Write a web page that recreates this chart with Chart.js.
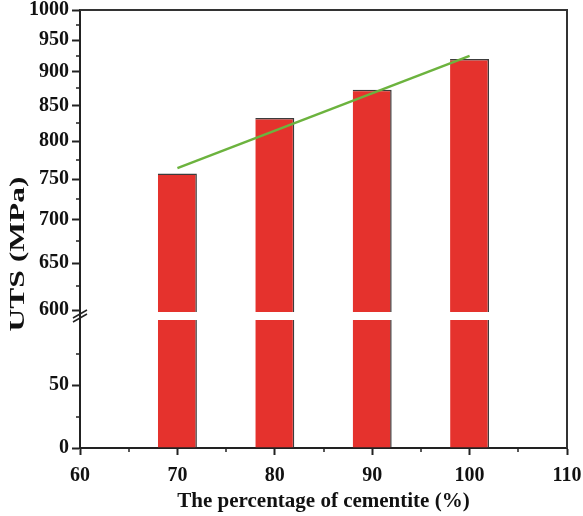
<!DOCTYPE html>
<html>
<head>
<meta charset="utf-8">
<script src="https://cdn.jsdelivr.net/npm/chart.js@4"></script>
<style>
  html, body { margin: 0; padding: 0; background: #fff; }
  #wrap { width: 583px; height: 516px; }
</style>
</head>
<body>
<div id="wrap"><canvas id="canvas" width="583" height="516"></canvas></div>
<script>
// data
const cementite = [70, 80, 90, 100];
const uts = [757, 832, 873, 920];
const fitX = [70, 100];
const fitY = [764, 925];
const upperTicks = [600, 650, 700, 750, 800, 850, 900, 950, 1000];
const lowerTicks = [0, 50];
const xTicks = [60, 70, 80, 90, 100, 110];

const upperMin = 594, upperMax = 1000;
const lowerMin = 0, lowerMax = 105;

const ink = '#222';
const tickFont = { family: 'Liberation Serif', size: 20, weight: 'bold' };

function pts(xs, ys) {
    return xs.map((x, i) => ({ x: x, y: ys[i] }));
}

// frame, minor ticks, axis break, y title
const extras = {
    id: 'extras',
    afterDatasetsDraw(chart) {
        const ctx = chart.ctx;
        const a = chart.chartArea;
        const hi = chart.scales.yHigh;
        ctx.save();
        // white gap through the bars
        const b = hi.bottom;
        ctx.fillStyle = '#fff';
        ctx.fillRect(a.left + 1, b - 4, a.right - a.left - 2, 8);
        ctx.restore();
    },
    afterDraw(chart) {
        const ctx = chart.ctx;
        const a = chart.chartArea;
        const hi = chart.scales.yHigh, lo = chart.scales.yLow, x = chart.scales.x;
        ctx.save();
        ctx.strokeStyle = '#333';
        ctx.lineWidth = 2;
        ctx.beginPath();
        ctx.moveTo(a.left, a.top);
        ctx.lineTo(a.right, a.top);
        ctx.lineTo(a.right, a.bottom);
        ctx.stroke();

        // minor ticks
        ctx.strokeStyle = ink;
        ctx.lineWidth = 1.5;
        ctx.beginPath();
        for (let i = 0; i < upperTicks.length - 1; i++) {
            const y = Math.round(hi.getPixelForValue((upperTicks[i] + upperTicks[i + 1]) / 2));
            ctx.moveTo(a.left - 4, y);
            ctx.lineTo(a.left, y);
        }
        const step = lowerTicks[1] - lowerTicks[0];
        for (let v = lowerTicks[0] + step / 2; v < lowerMax; v += step) {
            const y = Math.round(lo.getPixelForValue(v));
            ctx.moveTo(a.left - 4, y);
            ctx.lineTo(a.left, y);
        }
        for (let i = 0; i < xTicks.length - 1; i++) {
            const px = Math.round(x.getPixelForValue((xTicks[i] + xTicks[i + 1]) / 2));
            ctx.moveTo(px, a.bottom);
            ctx.lineTo(px, a.bottom + 4);
        }
        ctx.stroke();

        // break marks on the y axis
        const b = hi.bottom;
        ctx.lineWidth = 1.5;
        ctx.beginPath();
        ctx.moveTo(a.left - 7, b + 2);
        ctx.lineTo(a.left + 7, b - 6);
        ctx.moveTo(a.left - 7, b + 6);
        ctx.lineTo(a.left + 7, b - 2);
        ctx.stroke();

        // y title (stretched like the original)
        ctx.fillStyle = '#111';
        ctx.font = 'bold 21px "Liberation Serif"';
        ctx.textAlign = 'center';
        ctx.textBaseline = 'middle';
        ctx.translate(19, 254);
        ctx.rotate(-Math.PI / 2);
        ctx.scale(1.5, 1);
        ctx.fillText('UTS (MPa)', 0, 0);
        ctx.restore();
    }
};

function yAxis(ticksList, extra) {
    return Object.assign({
        position: 'left',
        stack: 'uts',
        bounds: 'data',
        border: { display: true, color: ink, width: 2 },
        grid: { drawOnChartArea: false, drawTicks: true, tickLength: 8, tickColor: ink, tickWidth: 2 },
        ticks: {
            color: '#111',
            font: tickFont,
            padding: 3,
            autoSkip: false,
            callback: v => String(v)
        },
        afterBuildTicks: s => { s.ticks = ticksList.map(v => ({ value: v })); },
        afterFit: s => { s.width = 80; s.paddingTop = 0; s.paddingBottom = 0; }
    }, extra);
}

const ctx = document.getElementById('canvas').getContext('2d');
const chart = new Chart(ctx, {
    type: 'bar',
    data: {
        datasets: [
            {
                type: 'line',
                data: pts(fitX, fitY),
                yAxisID: 'yHigh',
                borderColor: '#6cb33e',
                borderWidth: 2.5,
                pointRadius: 0,
                order: 0
            },
            {
                data: pts(cementite, uts),
                yAxisID: 'yHigh',
                backgroundColor: '#e5322d',
                borderColor: '#3c3c3c',
                borderWidth: { top: 1.5, right: 1.5, left: 0, bottom: 0 },
                borderSkipped: false,
                grouped: false,
                barPercentage: 1,
                categoryPercentage: 0.4,
                order: 1
            },
            {
                data: pts(cementite, uts.map(v => Math.min(v, lowerMax))),
                yAxisID: 'yLow',
                backgroundColor: '#e5322d',
                borderColor: '#3c3c3c',
                borderWidth: { top: 0, right: 1.5, left: 0, bottom: 0 },
                borderSkipped: false,
                grouped: false,
                barPercentage: 1,
                categoryPercentage: 0.4,
                order: 1
            }
        ]
    },
    options: {
        responsive: false,
        animation: false,
        layout: { padding: { top: 10, right: 16, left: 0, bottom: 0 } },
        plugins: { legend: { display: false }, tooltip: { enabled: false } },
        scales: {
            x: {
                type: 'linear',
                min: 60,
                max: 110,
                offset: false,
                border: { display: true, color: ink, width: 2 },
                grid: { offset: false, drawOnChartArea: false, drawTicks: true, tickLength: 7, tickColor: ink, tickWidth: 2 },
                ticks: { stepSize: 10, color: '#111', font: tickFont, padding: 9, maxRotation: 0 },
                afterBuildTicks: s => { s.ticks = xTicks.map(v => ({ value: v })); },
                title: {
                    display: true,
                    text: 'The percentage of cementite (%)',
                    color: '#111',
                    font: { family: 'Liberation Serif', size: 21, weight: 'bold' },
                    padding: { top: 0, bottom: 2 }
                },
                afterFit: s => { s.height = 68; s.paddingLeft = 0; s.paddingRight = 0; }
            },
            yLow: yAxis(lowerTicks, { type: 'linear', min: lowerMin, max: lowerMax, stackWeight: 132 }),
            yHigh: yAxis(upperTicks, { type: 'logarithmic', min: upperMin, max: upperMax, stackWeight: 306 })
        }
    },
    plugins: [extras]
});
</script>
</body>
</html>
